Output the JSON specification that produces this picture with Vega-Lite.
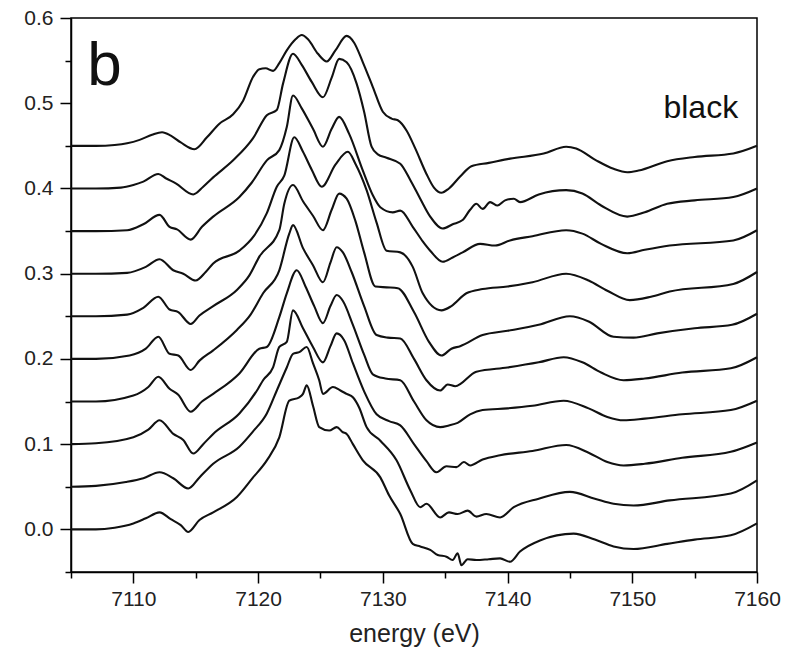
{
  "$schema": "https://vega.github.io/schema/vega-lite/v6.json",
  "width": 686,
  "height": 554,
  "autosize": {"type": "none"},
  "padding": {"left": 71, "top": 18, "right": 35, "bottom": 93},
  "background": "white",
  "config": {"view": {"stroke": "black", "strokeWidth": 1.5}, "font": "Liberation Sans"},
  "datasets": {
    "spectra": [
      {"series": 1, "energy": 7105, "absorbance": 0.450}, {"series": 1, "energy": 7107, "absorbance": 0.450}, {"series": 1, "energy": 7108.5, "absorbance": 0.451}, {"series": 1, "energy": 7109.5, "absorbance": 0.453}, {"series": 1, "energy": 7110.5, "absorbance": 0.457}, {"series": 1, "energy": 7111.5, "absorbance": 0.463}, {"series": 1, "energy": 7112.3, "absorbance": 0.466}, {"series": 1, "energy": 7113, "absorbance": 0.462}, {"series": 1, "energy": 7113.8, "absorbance": 0.454}, {"series": 1, "energy": 7114.9, "absorbance": 0.446}, {"series": 1, "energy": 7115.9, "absorbance": 0.460}, {"series": 1, "energy": 7116.9, "absorbance": 0.476}, {"series": 1, "energy": 7118, "absorbance": 0.487}, {"series": 1, "energy": 7118.8, "absorbance": 0.503}, {"series": 1, "energy": 7119.6, "absorbance": 0.531}, {"series": 1, "energy": 7120.1, "absorbance": 0.540}, {"series": 1, "energy": 7120.6, "absorbance": 0.541}, {"series": 1, "energy": 7121.2, "absorbance": 0.538}, {"series": 1, "energy": 7121.7, "absorbance": 0.547}, {"series": 1, "energy": 7122.3, "absorbance": 0.562}, {"series": 1, "energy": 7123, "absorbance": 0.575}, {"series": 1, "energy": 7123.5, "absorbance": 0.580}, {"series": 1, "energy": 7124, "absorbance": 0.575}, {"series": 1, "energy": 7124.8, "absorbance": 0.558}, {"series": 1, "energy": 7125.5, "absorbance": 0.549}, {"series": 1, "energy": 7126.2, "absorbance": 0.562}, {"series": 1, "energy": 7127.1, "absorbance": 0.579}, {"series": 1, "energy": 7127.7, "absorbance": 0.571}, {"series": 1, "energy": 7128.4, "absorbance": 0.548}, {"series": 1, "energy": 7129.2, "absorbance": 0.519}, {"series": 1, "energy": 7130, "absorbance": 0.490}, {"series": 1, "energy": 7130.7, "absorbance": 0.482}, {"series": 1, "energy": 7131.2, "absorbance": 0.480}, {"series": 1, "energy": 7131.9, "absorbance": 0.468}, {"series": 1, "energy": 7132.6, "absorbance": 0.447}, {"series": 1, "energy": 7133.5, "absorbance": 0.417}, {"series": 1, "energy": 7134.1, "absorbance": 0.401}, {"series": 1, "energy": 7134.7, "absorbance": 0.395}, {"series": 1, "energy": 7135.3, "absorbance": 0.400}, {"series": 1, "energy": 7136.2, "absorbance": 0.414}, {"series": 1, "energy": 7137.1, "absorbance": 0.426}, {"series": 1, "energy": 7138.5, "absorbance": 0.430}, {"series": 1, "energy": 7140.2, "absorbance": 0.435}, {"series": 1, "energy": 7142.9, "absorbance": 0.441}, {"series": 1, "energy": 7144.7, "absorbance": 0.449}, {"series": 1, "energy": 7145.5, "absorbance": 0.447}, {"series": 1, "energy": 7147.1, "absorbance": 0.433}, {"series": 1, "energy": 7148.5, "absorbance": 0.423}, {"series": 1, "energy": 7149.6, "absorbance": 0.419}, {"series": 1, "energy": 7150.5, "absorbance": 0.421}, {"series": 1, "energy": 7152.8, "absorbance": 0.432}, {"series": 1, "energy": 7155, "absorbance": 0.437}, {"series": 1, "energy": 7158.1, "absorbance": 0.441}, {"series": 1, "energy": 7160, "absorbance": 0.450},
      {"series": 2, "energy": 7105, "absorbance": 0.400}, {"series": 2, "energy": 7107, "absorbance": 0.400}, {"series": 2, "energy": 7109, "absorbance": 0.401}, {"series": 2, "energy": 7110, "absorbance": 0.404}, {"series": 2, "energy": 7110.8, "absorbance": 0.408}, {"series": 2, "energy": 7112, "absorbance": 0.417}, {"series": 2, "energy": 7112.6, "absorbance": 0.412}, {"series": 2, "energy": 7113.4, "absorbance": 0.406}, {"series": 2, "energy": 7114.8, "absorbance": 0.393}, {"series": 2, "energy": 7115.6, "absorbance": 0.402}, {"series": 2, "energy": 7116.4, "absorbance": 0.413}, {"series": 2, "energy": 7118, "absorbance": 0.433}, {"series": 2, "energy": 7119.6, "absorbance": 0.459}, {"series": 2, "energy": 7120.7, "absorbance": 0.486}, {"series": 2, "energy": 7121.5, "absorbance": 0.492}, {"series": 2, "energy": 7122, "absorbance": 0.523}, {"series": 2, "energy": 7122.8, "absorbance": 0.558}, {"series": 2, "energy": 7123.5, "absorbance": 0.545}, {"series": 2, "energy": 7124.3, "absorbance": 0.525}, {"series": 2, "energy": 7125.2, "absorbance": 0.507}, {"series": 2, "energy": 7125.9, "absorbance": 0.530}, {"series": 2, "energy": 7126.5, "absorbance": 0.552}, {"series": 2, "energy": 7127.1, "absorbance": 0.548}, {"series": 2, "energy": 7127.9, "absorbance": 0.523}, {"series": 2, "energy": 7128.5, "absorbance": 0.490}, {"series": 2, "energy": 7129.1, "absorbance": 0.449}, {"series": 2, "energy": 7129.6, "absorbance": 0.440}, {"series": 2, "energy": 7130.3, "absorbance": 0.436}, {"series": 2, "energy": 7131.4, "absorbance": 0.429}, {"series": 2, "energy": 7132.2, "absorbance": 0.410}, {"series": 2, "energy": 7133, "absorbance": 0.388}, {"series": 2, "energy": 7133.8, "absorbance": 0.367}, {"series": 2, "energy": 7134.8, "absorbance": 0.353}, {"series": 2, "energy": 7135.6, "absorbance": 0.358}, {"series": 2, "energy": 7136.4, "absorbance": 0.363}, {"series": 2, "energy": 7137, "absorbance": 0.375}, {"series": 2, "energy": 7137.5, "absorbance": 0.382}, {"series": 2, "energy": 7138, "absorbance": 0.376}, {"series": 2, "energy": 7138.6, "absorbance": 0.384}, {"series": 2, "energy": 7139.2, "absorbance": 0.380}, {"series": 2, "energy": 7139.8, "absorbance": 0.386}, {"series": 2, "energy": 7140.5, "absorbance": 0.388}, {"series": 2, "energy": 7141, "absorbance": 0.384}, {"series": 2, "energy": 7142.5, "absorbance": 0.393}, {"series": 2, "energy": 7144.7, "absorbance": 0.398}, {"series": 2, "energy": 7146, "absorbance": 0.394}, {"series": 2, "energy": 7147.5, "absorbance": 0.380}, {"series": 2, "energy": 7149.6, "absorbance": 0.367}, {"series": 2, "energy": 7151, "absorbance": 0.372}, {"series": 2, "energy": 7152.8, "absorbance": 0.382}, {"series": 2, "energy": 7155, "absorbance": 0.386}, {"series": 2, "energy": 7158.1, "absorbance": 0.390}, {"series": 2, "energy": 7160, "absorbance": 0.400},
      {"series": 3, "energy": 7105, "absorbance": 0.350}, {"series": 3, "energy": 7107, "absorbance": 0.350}, {"series": 3, "energy": 7109.5, "absorbance": 0.351}, {"series": 3, "energy": 7110.8, "absorbance": 0.358}, {"series": 3, "energy": 7112.1, "absorbance": 0.369}, {"series": 3, "energy": 7112.9, "absorbance": 0.355}, {"series": 3, "energy": 7113.5, "absorbance": 0.352}, {"series": 3, "energy": 7114.6, "absorbance": 0.340}, {"series": 3, "energy": 7115.5, "absorbance": 0.355}, {"series": 3, "energy": 7116.4, "absorbance": 0.367}, {"series": 3, "energy": 7118.5, "absorbance": 0.390}, {"series": 3, "energy": 7119.5, "absorbance": 0.407}, {"series": 3, "energy": 7120.7, "absorbance": 0.433}, {"series": 3, "energy": 7121.7, "absorbance": 0.445}, {"series": 3, "energy": 7122.3, "absorbance": 0.472}, {"series": 3, "energy": 7122.8, "absorbance": 0.509}, {"series": 3, "energy": 7123.5, "absorbance": 0.494}, {"series": 3, "energy": 7124.4, "absorbance": 0.470}, {"series": 3, "energy": 7125.2, "absorbance": 0.449}, {"series": 3, "energy": 7125.9, "absorbance": 0.470}, {"series": 3, "energy": 7126.5, "absorbance": 0.484}, {"series": 3, "energy": 7127.3, "absorbance": 0.464}, {"series": 3, "energy": 7128.4, "absorbance": 0.421}, {"series": 3, "energy": 7129.2, "absorbance": 0.392}, {"series": 3, "energy": 7129.8, "absorbance": 0.378}, {"series": 3, "energy": 7130.8, "absorbance": 0.372}, {"series": 3, "energy": 7131.4, "absorbance": 0.374}, {"series": 3, "energy": 7132.4, "absorbance": 0.355}, {"series": 3, "energy": 7133.2, "absorbance": 0.338}, {"series": 3, "energy": 7133.8, "absorbance": 0.327}, {"series": 3, "energy": 7134.8, "absorbance": 0.314}, {"series": 3, "energy": 7135.6, "absorbance": 0.319}, {"series": 3, "energy": 7136.4, "absorbance": 0.325}, {"series": 3, "energy": 7137.8, "absorbance": 0.335}, {"series": 3, "energy": 7139, "absorbance": 0.333}, {"series": 3, "energy": 7140.2, "absorbance": 0.339}, {"series": 3, "energy": 7142, "absorbance": 0.344}, {"series": 3, "energy": 7144.7, "absorbance": 0.351}, {"series": 3, "energy": 7146, "absorbance": 0.347}, {"series": 3, "energy": 7147.5, "absorbance": 0.335}, {"series": 3, "energy": 7149.6, "absorbance": 0.324}, {"series": 3, "energy": 7151, "absorbance": 0.328}, {"series": 3, "energy": 7153, "absorbance": 0.333}, {"series": 3, "energy": 7158.1, "absorbance": 0.339}, {"series": 3, "energy": 7160, "absorbance": 0.351},
      {"series": 4, "energy": 7105, "absorbance": 0.300}, {"series": 4, "energy": 7107, "absorbance": 0.300}, {"series": 4, "energy": 7109.5, "absorbance": 0.301}, {"series": 4, "energy": 7111, "absorbance": 0.308}, {"series": 4, "energy": 7112.1, "absorbance": 0.317}, {"series": 4, "energy": 7113.2, "absorbance": 0.304}, {"series": 4, "energy": 7114, "absorbance": 0.300}, {"series": 4, "energy": 7115, "absorbance": 0.292}, {"series": 4, "energy": 7115.8, "absorbance": 0.302}, {"series": 4, "energy": 7116.4, "absorbance": 0.312}, {"series": 4, "energy": 7118.5, "absorbance": 0.327}, {"series": 4, "energy": 7119.7, "absorbance": 0.345}, {"series": 4, "energy": 7120.7, "absorbance": 0.371}, {"series": 4, "energy": 7121.5, "absorbance": 0.402}, {"series": 4, "energy": 7122.1, "absorbance": 0.415}, {"series": 4, "energy": 7122.9, "absorbance": 0.460}, {"series": 4, "energy": 7123.6, "absorbance": 0.443}, {"series": 4, "energy": 7124.3, "absorbance": 0.422}, {"series": 4, "energy": 7125.1, "absorbance": 0.402}, {"series": 4, "energy": 7126.2, "absorbance": 0.428}, {"series": 4, "energy": 7127.2, "absorbance": 0.443}, {"series": 4, "energy": 7127.8, "absorbance": 0.429}, {"series": 4, "energy": 7128.7, "absorbance": 0.398}, {"series": 4, "energy": 7129.5, "absorbance": 0.360}, {"series": 4, "energy": 7130.3, "absorbance": 0.327}, {"series": 4, "energy": 7131.4, "absorbance": 0.325}, {"series": 4, "energy": 7132.4, "absorbance": 0.308}, {"series": 4, "energy": 7133.2, "absorbance": 0.277}, {"series": 4, "energy": 7134.7, "absorbance": 0.257}, {"series": 4, "energy": 7135.5, "absorbance": 0.262}, {"series": 4, "energy": 7136.7, "absorbance": 0.277}, {"series": 4, "energy": 7138, "absorbance": 0.282}, {"series": 4, "energy": 7140, "absorbance": 0.285}, {"series": 4, "energy": 7142, "absorbance": 0.290}, {"series": 4, "energy": 7144.7, "absorbance": 0.300}, {"series": 4, "energy": 7146.5, "absorbance": 0.292}, {"series": 4, "energy": 7148, "absorbance": 0.280}, {"series": 4, "energy": 7149.8, "absorbance": 0.269}, {"series": 4, "energy": 7151.5, "absorbance": 0.273}, {"series": 4, "energy": 7153, "absorbance": 0.279}, {"series": 4, "energy": 7158.1, "absorbance": 0.288}, {"series": 4, "energy": 7160, "absorbance": 0.302},
      {"series": 5, "energy": 7105, "absorbance": 0.250}, {"series": 5, "energy": 7107, "absorbance": 0.250}, {"series": 5, "energy": 7109.5, "absorbance": 0.252}, {"series": 5, "energy": 7110.8, "absorbance": 0.260}, {"series": 5, "energy": 7112, "absorbance": 0.273}, {"series": 5, "energy": 7112.9, "absorbance": 0.258}, {"series": 5, "energy": 7113.6, "absorbance": 0.255}, {"series": 5, "energy": 7114.6, "absorbance": 0.241}, {"series": 5, "energy": 7115.3, "absorbance": 0.251}, {"series": 5, "energy": 7116.4, "absorbance": 0.262}, {"series": 5, "energy": 7118.3, "absorbance": 0.281}, {"series": 5, "energy": 7119.3, "absorbance": 0.298}, {"series": 5, "energy": 7120.1, "absorbance": 0.320}, {"series": 5, "energy": 7121.7, "absorbance": 0.351}, {"series": 5, "energy": 7122.1, "absorbance": 0.382}, {"series": 5, "energy": 7122.8, "absorbance": 0.404}, {"series": 5, "energy": 7123.6, "absorbance": 0.385}, {"series": 5, "energy": 7124.4, "absorbance": 0.368}, {"series": 5, "energy": 7125.2, "absorbance": 0.351}, {"series": 5, "energy": 7125.9, "absorbance": 0.375}, {"series": 5, "energy": 7126.5, "absorbance": 0.394}, {"series": 5, "energy": 7127.1, "absorbance": 0.388}, {"series": 5, "energy": 7127.8, "absorbance": 0.362}, {"series": 5, "energy": 7128.5, "absorbance": 0.325}, {"series": 5, "energy": 7129.4, "absorbance": 0.285}, {"series": 5, "energy": 7130.3, "absorbance": 0.284}, {"series": 5, "energy": 7131.2, "absorbance": 0.283}, {"series": 5, "energy": 7132.5, "absorbance": 0.255}, {"series": 5, "energy": 7133.7, "absorbance": 0.220}, {"series": 5, "energy": 7134.7, "absorbance": 0.204}, {"series": 5, "energy": 7135.5, "absorbance": 0.212}, {"series": 5, "energy": 7136.2, "absorbance": 0.215}, {"series": 5, "energy": 7138, "absorbance": 0.228}, {"series": 5, "energy": 7140, "absorbance": 0.233}, {"series": 5, "energy": 7142.5, "absorbance": 0.240}, {"series": 5, "energy": 7145, "absorbance": 0.250}, {"series": 5, "energy": 7146.5, "absorbance": 0.244}, {"series": 5, "energy": 7148.5, "absorbance": 0.226}, {"series": 5, "energy": 7150.1, "absorbance": 0.225}, {"series": 5, "energy": 7152, "absorbance": 0.230}, {"series": 5, "energy": 7155, "absorbance": 0.236}, {"series": 5, "energy": 7158, "absorbance": 0.240}, {"series": 5, "energy": 7160, "absorbance": 0.253},
      {"series": 6, "energy": 7105, "absorbance": 0.200}, {"series": 6, "energy": 7107, "absorbance": 0.200}, {"series": 6, "energy": 7109.7, "absorbance": 0.204}, {"series": 6, "energy": 7111, "absorbance": 0.212}, {"series": 6, "energy": 7112, "absorbance": 0.226}, {"series": 6, "energy": 7112.9, "absorbance": 0.206}, {"series": 6, "energy": 7113.6, "absorbance": 0.204}, {"series": 6, "energy": 7114.6, "absorbance": 0.187}, {"series": 6, "energy": 7115.3, "absorbance": 0.198}, {"series": 6, "energy": 7116.4, "absorbance": 0.210}, {"series": 6, "energy": 7118.3, "absorbance": 0.234}, {"series": 6, "energy": 7119.4, "absorbance": 0.252}, {"series": 6, "energy": 7120.4, "absorbance": 0.277}, {"series": 6, "energy": 7121.7, "absorbance": 0.304}, {"series": 6, "energy": 7122.5, "absorbance": 0.347}, {"series": 6, "energy": 7122.8, "absorbance": 0.357}, {"series": 6, "energy": 7123.6, "absorbance": 0.330}, {"series": 6, "energy": 7124.4, "absorbance": 0.310}, {"series": 6, "energy": 7125.2, "absorbance": 0.290}, {"series": 6, "energy": 7125.8, "absorbance": 0.313}, {"series": 6, "energy": 7126.3, "absorbance": 0.331}, {"series": 6, "energy": 7126.8, "absorbance": 0.325}, {"series": 6, "energy": 7127.5, "absorbance": 0.302}, {"series": 6, "energy": 7128.5, "absorbance": 0.262}, {"series": 6, "energy": 7129.5, "absorbance": 0.228}, {"series": 6, "energy": 7130.4, "absorbance": 0.225}, {"series": 6, "energy": 7131.4, "absorbance": 0.224}, {"series": 6, "energy": 7132.5, "absorbance": 0.200}, {"series": 6, "energy": 7133.5, "absorbance": 0.175}, {"series": 6, "energy": 7134.6, "absorbance": 0.163}, {"series": 6, "energy": 7135.2, "absorbance": 0.170}, {"series": 6, "energy": 7135.8, "absorbance": 0.168}, {"series": 6, "energy": 7137.5, "absorbance": 0.185}, {"series": 6, "energy": 7140, "absorbance": 0.190}, {"series": 6, "energy": 7142.5, "absorbance": 0.196}, {"series": 6, "energy": 7144.5, "absorbance": 0.202}, {"series": 6, "energy": 7146, "absorbance": 0.196}, {"series": 6, "energy": 7147.5, "absorbance": 0.184}, {"series": 6, "energy": 7149.3, "absorbance": 0.175}, {"series": 6, "energy": 7151, "absorbance": 0.177}, {"series": 6, "energy": 7154, "absorbance": 0.184}, {"series": 6, "energy": 7157.9, "absorbance": 0.189}, {"series": 6, "energy": 7160, "absorbance": 0.202},
      {"series": 7, "energy": 7105, "absorbance": 0.150}, {"series": 7, "energy": 7107, "absorbance": 0.150}, {"series": 7, "energy": 7110, "absorbance": 0.157}, {"series": 7, "energy": 7111.2, "absorbance": 0.167}, {"series": 7, "energy": 7112, "absorbance": 0.179}, {"series": 7, "energy": 7112.9, "absorbance": 0.165}, {"series": 7, "energy": 7113.6, "absorbance": 0.158}, {"series": 7, "energy": 7114.6, "absorbance": 0.138}, {"series": 7, "energy": 7115.5, "absorbance": 0.150}, {"series": 7, "energy": 7116.4, "absorbance": 0.159}, {"series": 7, "energy": 7118.5, "absorbance": 0.183}, {"series": 7, "energy": 7120.1, "absorbance": 0.212}, {"series": 7, "energy": 7120.7, "absorbance": 0.214}, {"series": 7, "energy": 7121.7, "absorbance": 0.249}, {"series": 7, "energy": 7122.3, "absorbance": 0.277}, {"series": 7, "energy": 7123.1, "absorbance": 0.304}, {"series": 7, "energy": 7123.8, "absorbance": 0.285}, {"series": 7, "energy": 7124.5, "absorbance": 0.262}, {"series": 7, "energy": 7125.2, "absorbance": 0.242}, {"series": 7, "energy": 7125.8, "absorbance": 0.262}, {"series": 7, "energy": 7126.3, "absorbance": 0.275}, {"series": 7, "energy": 7126.8, "absorbance": 0.268}, {"series": 7, "energy": 7127.6, "absorbance": 0.240}, {"series": 7, "energy": 7128.5, "absorbance": 0.205}, {"series": 7, "energy": 7129.2, "absorbance": 0.182}, {"series": 7, "energy": 7130.2, "absorbance": 0.177}, {"series": 7, "energy": 7131.4, "absorbance": 0.175}, {"series": 7, "energy": 7132.5, "absorbance": 0.150}, {"series": 7, "energy": 7133.5, "absorbance": 0.128}, {"series": 7, "energy": 7134.6, "absorbance": 0.120}, {"series": 7, "energy": 7135.3, "absorbance": 0.122}, {"series": 7, "energy": 7136, "absorbance": 0.125}, {"series": 7, "energy": 7137, "absorbance": 0.135}, {"series": 7, "energy": 7138, "absorbance": 0.140}, {"series": 7, "energy": 7140, "absorbance": 0.142}, {"series": 7, "energy": 7142, "absorbance": 0.145}, {"series": 7, "energy": 7144.5, "absorbance": 0.151}, {"series": 7, "energy": 7146.5, "absorbance": 0.142}, {"series": 7, "energy": 7148, "absorbance": 0.132}, {"series": 7, "energy": 7149.3, "absorbance": 0.128}, {"series": 7, "energy": 7151, "absorbance": 0.130}, {"series": 7, "energy": 7154, "absorbance": 0.135}, {"series": 7, "energy": 7157.9, "absorbance": 0.140}, {"series": 7, "energy": 7160, "absorbance": 0.151},
      {"series": 8, "energy": 7105, "absorbance": 0.100}, {"series": 8, "energy": 7107, "absorbance": 0.101}, {"series": 8, "energy": 7110, "absorbance": 0.108}, {"series": 8, "energy": 7111.2, "absorbance": 0.117}, {"series": 8, "energy": 7112.1, "absorbance": 0.128}, {"series": 8, "energy": 7113.2, "absorbance": 0.112}, {"series": 8, "energy": 7114, "absorbance": 0.105}, {"series": 8, "energy": 7114.8, "absorbance": 0.089}, {"series": 8, "energy": 7115.6, "absorbance": 0.100}, {"series": 8, "energy": 7116.4, "absorbance": 0.112}, {"series": 8, "energy": 7118.5, "absorbance": 0.136}, {"series": 8, "energy": 7120, "absorbance": 0.165}, {"series": 8, "energy": 7120.4, "absorbance": 0.175}, {"series": 8, "energy": 7121.2, "absorbance": 0.190}, {"series": 8, "energy": 7121.7, "absorbance": 0.214}, {"series": 8, "energy": 7122.3, "absorbance": 0.220}, {"series": 8, "energy": 7122.8, "absorbance": 0.257}, {"series": 8, "energy": 7123.6, "absorbance": 0.236}, {"series": 8, "energy": 7124.4, "absorbance": 0.214}, {"series": 8, "energy": 7125.2, "absorbance": 0.196}, {"series": 8, "energy": 7125.8, "absorbance": 0.215}, {"series": 8, "energy": 7126.3, "absorbance": 0.230}, {"series": 8, "energy": 7126.9, "absorbance": 0.222}, {"series": 8, "energy": 7127.6, "absorbance": 0.195}, {"series": 8, "energy": 7128.5, "absorbance": 0.162}, {"series": 8, "energy": 7129.5, "absorbance": 0.135}, {"series": 8, "energy": 7130.5, "absorbance": 0.127}, {"series": 8, "energy": 7131.4, "absorbance": 0.122}, {"series": 8, "energy": 7132.5, "absorbance": 0.100}, {"series": 8, "energy": 7133.5, "absorbance": 0.080}, {"series": 8, "energy": 7134.3, "absorbance": 0.067}, {"series": 8, "energy": 7135.1, "absorbance": 0.074}, {"series": 8, "energy": 7135.9, "absorbance": 0.073}, {"series": 8, "energy": 7136.5, "absorbance": 0.079}, {"series": 8, "energy": 7137, "absorbance": 0.075}, {"series": 8, "energy": 7138, "absorbance": 0.082}, {"series": 8, "energy": 7139.4, "absorbance": 0.087}, {"series": 8, "energy": 7142, "absorbance": 0.092}, {"series": 8, "energy": 7144.7, "absorbance": 0.099}, {"series": 8, "energy": 7146.5, "absorbance": 0.090}, {"series": 8, "energy": 7148, "absorbance": 0.079}, {"series": 8, "energy": 7149.3, "absorbance": 0.075}, {"series": 8, "energy": 7151, "absorbance": 0.077}, {"series": 8, "energy": 7154, "absorbance": 0.084}, {"series": 8, "energy": 7157.9, "absorbance": 0.091}, {"series": 8, "energy": 7160, "absorbance": 0.102},
      {"series": 9, "energy": 7105, "absorbance": 0.050}, {"series": 9, "energy": 7107, "absorbance": 0.051}, {"series": 9, "energy": 7109.4, "absorbance": 0.0555}, {"series": 9, "energy": 7110.8, "absorbance": 0.060}, {"series": 9, "energy": 7112.1, "absorbance": 0.067}, {"series": 9, "energy": 7113.2, "absorbance": 0.060}, {"series": 9, "energy": 7114.4, "absorbance": 0.048}, {"series": 9, "energy": 7115.3, "absorbance": 0.061}, {"series": 9, "energy": 7116.4, "absorbance": 0.077}, {"series": 9, "energy": 7118.5, "absorbance": 0.097}, {"series": 9, "energy": 7119.6, "absorbance": 0.115}, {"series": 9, "energy": 7120.7, "absorbance": 0.136}, {"series": 9, "energy": 7121.5, "absorbance": 0.163}, {"series": 9, "energy": 7122.3, "absorbance": 0.190}, {"series": 9, "energy": 7122.8, "absorbance": 0.206}, {"series": 9, "energy": 7123.3, "absorbance": 0.208}, {"series": 9, "energy": 7123.9, "absorbance": 0.214}, {"series": 9, "energy": 7124.4, "absorbance": 0.195}, {"series": 9, "energy": 7124.9, "absorbance": 0.175}, {"series": 9, "energy": 7125.2, "absorbance": 0.159}, {"series": 9, "energy": 7126, "absorbance": 0.167}, {"series": 9, "energy": 7126.6, "absorbance": 0.163}, {"series": 9, "energy": 7127.1, "absorbance": 0.159}, {"series": 9, "energy": 7127.6, "absorbance": 0.155}, {"series": 9, "energy": 7128.1, "absorbance": 0.143}, {"series": 9, "energy": 7128.7, "absorbance": 0.120}, {"series": 9, "energy": 7129.8, "absorbance": 0.104}, {"series": 9, "energy": 7131.1, "absorbance": 0.081}, {"series": 9, "energy": 7132.2, "absorbance": 0.046}, {"series": 9, "energy": 7133, "absorbance": 0.026}, {"series": 9, "energy": 7133.5, "absorbance": 0.030}, {"series": 9, "energy": 7134.6, "absorbance": 0.014}, {"series": 9, "energy": 7135.3, "absorbance": 0.020}, {"series": 9, "energy": 7136, "absorbance": 0.018}, {"series": 9, "energy": 7136.8, "absorbance": 0.022}, {"series": 9, "energy": 7137.5, "absorbance": 0.015}, {"series": 9, "energy": 7138.3, "absorbance": 0.018}, {"series": 9, "energy": 7139.4, "absorbance": 0.014}, {"series": 9, "energy": 7140.5, "absorbance": 0.026}, {"series": 9, "energy": 7142.5, "absorbance": 0.036}, {"series": 9, "energy": 7145, "absorbance": 0.044}, {"series": 9, "energy": 7147, "absorbance": 0.036}, {"series": 9, "energy": 7148.5, "absorbance": 0.030}, {"series": 9, "energy": 7150.1, "absorbance": 0.028}, {"series": 9, "energy": 7153, "absorbance": 0.034}, {"series": 9, "energy": 7157.9, "absorbance": 0.042}, {"series": 9, "energy": 7160, "absorbance": 0.0575},
      {"series": 10, "energy": 7105, "absorbance": 0.000}, {"series": 10, "energy": 7107, "absorbance": 0.000}, {"series": 10, "energy": 7108.5, "absorbance": 0.002}, {"series": 10, "energy": 7110, "absorbance": 0.007}, {"series": 10, "energy": 7111, "absorbance": 0.013}, {"series": 10, "energy": 7112.1, "absorbance": 0.020}, {"series": 10, "energy": 7113, "absorbance": 0.012}, {"series": 10, "energy": 7113.8, "absorbance": 0.005}, {"series": 10, "energy": 7114.4, "absorbance": -0.003}, {"series": 10, "energy": 7115.3, "absorbance": 0.011}, {"series": 10, "energy": 7116.4, "absorbance": 0.020}, {"series": 10, "energy": 7118.3, "absorbance": 0.038}, {"series": 10, "energy": 7119.6, "absorbance": 0.061}, {"series": 10, "energy": 7120.7, "absorbance": 0.081}, {"series": 10, "energy": 7121.7, "absorbance": 0.108}, {"series": 10, "energy": 7122.5, "absorbance": 0.151}, {"series": 10, "energy": 7123.3, "absorbance": 0.155}, {"series": 10, "energy": 7123.6, "absorbance": 0.159}, {"series": 10, "energy": 7123.9, "absorbance": 0.169}, {"series": 10, "energy": 7124.4, "absorbance": 0.145}, {"series": 10, "energy": 7124.9, "absorbance": 0.120}, {"series": 10, "energy": 7125.7, "absorbance": 0.116}, {"series": 10, "energy": 7126.3, "absorbance": 0.120}, {"series": 10, "energy": 7126.8, "absorbance": 0.114}, {"series": 10, "energy": 7127.1, "absorbance": 0.112}, {"series": 10, "energy": 7127.6, "absorbance": 0.100}, {"series": 10, "energy": 7128.4, "absorbance": 0.081}, {"series": 10, "energy": 7129.8, "absorbance": 0.061}, {"series": 10, "energy": 7130.5, "absorbance": 0.040}, {"series": 10, "energy": 7131.4, "absorbance": 0.018}, {"series": 10, "energy": 7132.4, "absorbance": -0.017}, {"series": 10, "energy": 7133, "absorbance": -0.020}, {"series": 10, "energy": 7133.8, "absorbance": -0.024}, {"series": 10, "energy": 7134.4, "absorbance": -0.030}, {"series": 10, "energy": 7135.1, "absorbance": -0.032}, {"series": 10, "energy": 7135.6, "absorbance": -0.036}, {"series": 10, "energy": 7136, "absorbance": -0.028}, {"series": 10, "energy": 7136.3, "absorbance": -0.042}, {"series": 10, "energy": 7136.8, "absorbance": -0.035}, {"series": 10, "energy": 7137.5, "absorbance": -0.036}, {"series": 10, "energy": 7138.5, "absorbance": -0.035}, {"series": 10, "energy": 7139.4, "absorbance": -0.034}, {"series": 10, "energy": 7140.2, "absorbance": -0.038}, {"series": 10, "energy": 7141, "absorbance": -0.026}, {"series": 10, "energy": 7142.6, "absorbance": -0.013}, {"series": 10, "energy": 7145.3, "absorbance": -0.005}, {"series": 10, "energy": 7147, "absorbance": -0.012}, {"series": 10, "energy": 7148.5, "absorbance": -0.020}, {"series": 10, "energy": 7150.1, "absorbance": -0.023}, {"series": 10, "energy": 7152.8, "absorbance": -0.017}, {"series": 10, "energy": 7155, "absorbance": -0.012}, {"series": 10, "energy": 7157.9, "absorbance": -0.007}, {"series": 10, "energy": 7160, "absorbance": 0.007}
    ]
  },
  "layer": [
    {
      "data": {"name": "spectra"},
      "mark": {"type": "line", "color": "#111", "strokeWidth": 2.1, "strokeJoin": "round", "interpolate": "monotone"},
      "encoding": {
        "x": {"field": "energy", "type": "quantitative",
          "scale": {"domain": [7105, 7160], "nice": false, "zero": false},
          "axis": {"orient": "bottom", "values": [7110, 7120, 7130, 7140, 7150, 7160], "format": "d", "title": "energy (eV)", "grid": false,
            "tickSize": 11, "tickWidth": 1.5, "tickColor": "black", "domainColor": "black", "domainWidth": 1.5,
            "labelFont": "Liberation Sans", "labelFontSize": 21, "labelColor": "#222", "labelPadding": 5, "labelFlush": false, "labelOverlap": false,
            "titleFont": "Liberation Sans", "titleFontSize": 25, "titleFontWeight": "normal", "titleColor": "#222", "titlePadding": 12}},
        "y": {"field": "absorbance", "type": "quantitative",
          "scale": {"domain": [-0.05, 0.6], "nice": false, "zero": false},
          "axis": {"orient": "left", "values": [0, 0.1, 0.2, 0.3, 0.4, 0.5, 0.6], "format": ".1f", "title": null, "grid": false,
            "tickSize": 11, "tickWidth": 1.5, "tickColor": "black", "domainColor": "black", "domainWidth": 1.5,
            "labelFont": "Liberation Sans", "labelFontSize": 21, "labelColor": "#222", "labelPadding": 7, "labelFlush": false, "labelOverlap": false}},
        "detail": {"field": "series", "type": "nominal"}
      }
    },
    {
      "data": {"name": "spectra"},
      "mark": {"type": "line", "opacity": 0},
      "encoding": {
        "x": {"field": "energy", "type": "quantitative",
          "axis": {"orient": "bottom", "values": [7105, 7115, 7125, 7135, 7145, 7155], "labels": false, "domain": false, "title": null, "grid": false, "tickSize": 6, "tickWidth": 1.5, "tickColor": "black"}},
        "y": {"field": "absorbance", "type": "quantitative",
          "axis": {"orient": "left", "values": [-0.05, 0.05, 0.15, 0.25, 0.35, 0.45, 0.55], "labels": false, "domain": false, "title": null, "grid": false, "tickSize": 6, "tickWidth": 1.5, "tickColor": "black"}},
        "detail": {"field": "series", "type": "nominal"}
      }
    },
    {
      "data": {"values": [{"label": "b"}]},
      "mark": {"type": "text", "font": "Liberation Sans", "fontSize": 62, "align": "left", "baseline": "alphabetic", "color": "#111"},
      "encoding": {
        "x": {"datum": 7106.3, "type": "quantitative", "axis": null},
        "y": {"datum": 0.521, "type": "quantitative", "axis": null},
        "text": {"field": "label"}
      }
    },
    {
      "data": {"values": [{"label": "black"}]},
      "mark": {"type": "text", "font": "Liberation Sans", "fontSize": 32, "align": "left", "baseline": "alphabetic", "color": "#111"},
      "encoding": {
        "x": {"datum": 7152.5, "type": "quantitative", "axis": null},
        "y": {"datum": 0.4824, "type": "quantitative", "axis": null},
        "text": {"field": "label"}
      }
    }
  ],
  "resolve": {"axis": {"x": "independent", "y": "independent"}}
}
